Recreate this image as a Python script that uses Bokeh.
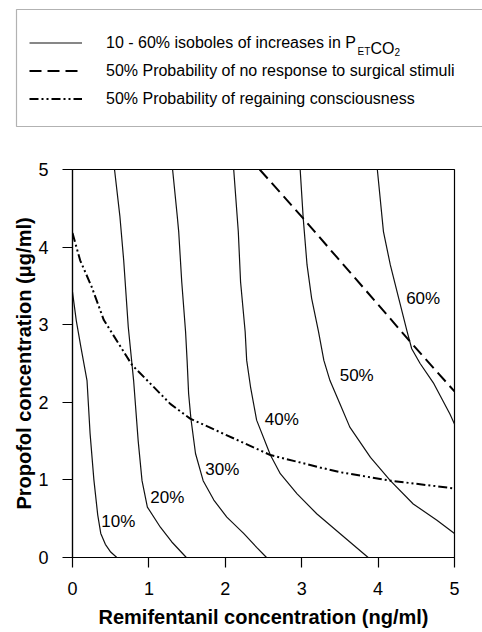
from bokeh.plotting import figure
from bokeh.layouts import column
from bokeh.models import Range1d, FixedTicker, Legend, LegendItem, Label, BoxAnnotation
from bokeh.embed import file_html
from bokeh.resources import INLINE
from bokeh.core.properties import value

# ---- data ----
iso10_x = [0.0, 0.05, 0.11, 0.19, 0.23, 0.28, 0.33, 0.37, 0.43, 0.50, 0.58]
iso10_y = [3.42, 3.05, 2.71, 2.28, 1.60, 1.00, 0.55, 0.31, 0.17, 0.07, 0.0]

iso20_x = [0.55, 0.62, 0.67, 0.73, 0.80, 0.86, 0.91, 0.98, 1.15, 1.30, 1.49]
iso20_y = [5.0, 4.40, 3.83, 2.97, 2.28, 1.50, 0.99, 0.65, 0.39, 0.20, 0.0]

iso30_x = [1.31, 1.37, 1.39, 1.43, 1.48, 1.50, 1.52, 1.55, 1.61, 1.71, 1.85, 2.02, 2.24, 2.41, 2.54]
iso30_y = [5.0, 4.41, 4.20, 3.55, 2.91, 2.54, 2.11, 1.79, 1.34, 0.99, 0.74, 0.52, 0.31, 0.13, 0.0]

iso40_x = [2.11, 2.17, 2.20, 2.26, 2.28, 2.33, 2.41, 2.59, 2.72, 2.94, 3.20, 3.50, 3.87]
iso40_y = [5.0, 4.20, 3.55, 2.91, 2.54, 2.20, 1.77, 1.32, 1.08, 0.82, 0.56, 0.31, 0.0]

iso50_x = [2.98, 3.02, 3.07, 3.13, 3.22, 3.29, 3.37, 3.50, 3.63, 3.90, 4.16, 4.46, 4.77, 5.0]
iso50_y = [5.0, 4.37, 3.77, 3.34, 2.91, 2.54, 2.28, 1.98, 1.68, 1.29, 0.99, 0.69, 0.48, 0.31]

iso60_x = [3.99, 4.07, 4.16, 4.27, 4.38, 4.44, 4.55, 4.73, 4.94, 5.0]
iso60_y = [5.0, 4.20, 3.77, 3.34, 2.91, 2.69, 2.50, 2.24, 1.85, 1.72]

surg_x = [2.45, 3.02, 3.46, 4.00, 4.42, 5.0]
surg_y = [5.0, 4.37, 3.87, 3.26, 2.78, 2.14]

roc_x = [0.0, 0.10, 0.25, 0.41, 0.78, 1.28, 1.54, 2.59, 3.24, 3.50, 4.16, 5.0]
roc_y = [4.18, 3.83, 3.49, 3.06, 2.48, 1.98, 1.79, 1.32, 1.16, 1.10, 0.99, 0.89]

pct_labels = ["10%", "20%", "30%", "40%", "50%", "60%"]
pct_x = [0.60, 1.24, 1.96, 2.74, 3.72, 4.59]
pct_y = [0.46, 0.77, 1.14, 1.78, 2.35, 3.34]

x_ticks = [0, 1, 2, 3, 4, 5]
y_ticks = [0, 1, 2, 3, 4, 5]

legend_labels = [
    "10 - 60% isoboles of increases in P",
    "50% Probability of no response to surgical stimuli",
    "50% Probability of regaining consciousness",
]

FONT = "Liberation Sans"
ISO_STYLE = dict(line_color="#111111", line_width=1.2)
SURG_STYLE = dict(line_color="black", line_width=2, line_dash="12 6")
ROC_STYLE = dict(line_color="black", line_width=2, line_dash="9 3 2 3 2 3")

# ---------------- legend panel (top) ----------------
TOP_H = 160
top = figure(width=482, height=TOP_H, x_range=Range1d(0, 1), y_range=Range1d(0, 1),
             output_backend="svg", toolbar_location=None, min_border=0,
             frame_align=False)
top.axis.visible = False
top.grid.visible = False
top.outline_line_color = None

# legend keys only (single off-range point: nothing drawn in the panel itself)
k1 = top.line([-1], [-1], **ISO_STYLE)
k2 = top.line([-1], [-1], **SURG_STYLE)
k3 = top.line([-1], [-1], **ROC_STYLE)

top.add_layout(BoxAnnotation(left=16, right=520, bottom=TOP_H - 126, top=TOP_H - 9,
                             left_units="screen", right_units="screen",
                             bottom_units="screen", top_units="screen",
                             fill_alpha=0, line_color="black", line_width=1.2))

legend = Legend(
    items=[LegendItem(label=legend_labels[0], renderers=[k1]),
           LegendItem(label=legend_labels[1], renderers=[k2]),
           LegendItem(label=legend_labels[2], renderers=[k3])],
    location=(29, TOP_H - 112), margin=0, padding=0, spacing=1,
    glyph_width=53, glyph_height=27, label_height=27, label_standoff=24,
    label_text_font=FONT, label_text_font_size="16px", label_text_color="black",
    border_line_color=None, background_fill_alpha=0,
)
top.add_layout(legend)

sub_style = dict(x_units="screen", y_units="screen", text_font=FONT, text_color="black",
                 text_baseline="alphabetic")
top.add_layout(Label(x=357, y=TOP_H - 51, text="ET", text_font_size="10px", **sub_style))
top.add_layout(Label(x=370, y=TOP_H - 48, text="CO", text_font_size="16px", **sub_style))
top.add_layout(Label(x=394, y=TOP_H - 51, text="2", text_font_size="10px", **sub_style))

# ---------------- chart ----------------
p = figure(width=482, height=632 - TOP_H, x_range=Range1d(0, 5), y_range=Range1d(0, 5),
           output_backend="svg", toolbar_location=None, frame_align=False,
           min_border_left=72, min_border_right=28, min_border_top=169 - TOP_H,
           min_border_bottom=75)
p.grid.visible = False
p.outline_line_color = "black"
p.outline_line_width = 1.2

p.line(iso10_x, iso10_y, **ISO_STYLE)
p.line(iso20_x, iso20_y, **ISO_STYLE)
p.line(iso30_x, iso30_y, **ISO_STYLE)
p.line(iso40_x, iso40_y, **ISO_STYLE)
p.line(iso50_x, iso50_y, **ISO_STYLE)
p.line(iso60_x, iso60_y, **ISO_STYLE)
p.line(surg_x, surg_y, **SURG_STYLE)
p.line(roc_x, roc_y, **ROC_STYLE)

p.text(x=pct_x, y=pct_y, text=pct_labels, text_align="center", text_baseline="middle",
       text_font=value(FONT), text_font_size="17px", text_color="black")

for ax, ticks in ((p.xaxis, x_ticks), (p.yaxis, y_ticks)):
    ax.ticker = FixedTicker(ticks=ticks)
    ax.major_tick_out = 10
    ax.major_tick_in = 0
    ax.minor_tick_out = 0
    ax.minor_tick_in = 0
    ax.axis_line_color = "black"
    ax.axis_line_width = 1.2
    ax.major_tick_line_color = "black"
    ax.major_tick_line_width = 1.2
    ax.major_label_text_font = FONT
    ax.major_label_text_font_size = "18px"
    ax.major_label_text_color = "black"
    ax.axis_label_text_font = FONT
    ax.axis_label_text_font_size = "20px"
    ax.axis_label_text_font_style = "bold"
    ax.axis_label_text_color = "black"
    ax.major_label_standoff = 14

p.xaxis.axis_label = "Remifentanil concentration (ng/ml)"
p.yaxis.axis_label = "Propofol concentration (μg/ml)"
p.xaxis.axis_label_standoff = 8
p.yaxis.axis_label_standoff = 0

layout = column(top, p, spacing=0)
open("out.html", "w").write(file_html(layout, INLINE))
